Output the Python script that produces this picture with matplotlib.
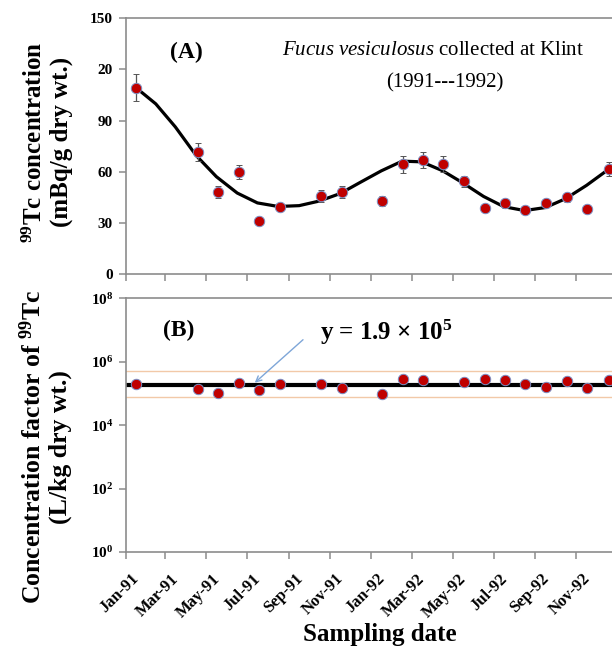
import matplotlib
matplotlib.use("Agg")
import matplotlib.pyplot as plt
import matplotlib.dates as mdates
import pandas as pd

plt.rcParams['font.family'] = ['Liberation Serif', 'DejaVu Serif']
plt.rcParams['mathtext.fontset'] = 'custom'
plt.rcParams['mathtext.rm'] = 'Liberation Serif'
plt.rcParams['mathtext.bf'] = 'Liberation Serif:bold'
plt.rcParams['mathtext.it'] = 'Liberation Serif:italic'

# 99Tc in Fucus vesiculosus, Klint 1991-1992
dates_a = pd.to_datetime([
    '1991-01-16', '1991-04-18', '1991-05-18', '1991-06-18', '1991-07-18',
    '1991-08-18', '1991-10-18', '1991-11-18', '1992-01-17', '1992-02-17',
    '1992-03-18', '1992-04-17', '1992-05-18', '1992-06-18', '1992-07-18',
    '1992-08-17', '1992-09-17', '1992-10-18', '1992-11-17', '1992-12-19'])
conc = [109.3, 71.6, 47.9, 59.8, 30.9, 39.1, 45.6, 48.1, 43.0, 64.5,
        66.7, 64.5, 54.4, 38.5, 41.5, 37.5, 41.9, 45.0, 37.9, 61.6]
conc_err = [8.1, 5.5, 3.5, 4.2, 1.0, 2.0, 3.5, 3.7, 3.0, 5.0,
            4.7, 4.7, 3.3, 2.0, 2.5, 2.0, 2.0, 2.7, 1.0, 4.0]

# smoothed trend through the concentration series
trend_dates = pd.to_datetime([
    '1991-01-16', '1991-02-15', '1991-03-16', '1991-04-16', '1991-05-16',
    '1991-06-16', '1991-07-16', '1991-08-16', '1991-09-16', '1991-10-16',
    '1991-11-16', '1991-12-16', '1992-01-16', '1992-02-16', '1992-03-16',
    '1992-04-16', '1992-05-16', '1992-06-16', '1992-07-16', '1992-08-16',
    '1992-09-16', '1992-10-16', '1992-11-16', '1992-12-19'])
trend = [109.5, 99.8, 86.3, 69.5, 57.1, 47.5, 41.7, 39.6, 40.1, 42.8,
         47.2, 53.8, 60.5, 66.2, 65.8, 60.6, 53.5, 45.5, 39.5, 37.2,
         39.0, 44.2, 52.0, 61.5]

# concentration factors (no value for Apr-92)
dates_b = pd.to_datetime([
    '1991-01-16', '1991-04-18', '1991-05-18', '1991-06-18', '1991-07-18',
    '1991-08-18', '1991-10-18', '1991-11-18', '1992-01-17', '1992-02-17',
    '1992-03-18', '1992-05-18', '1992-06-18', '1992-07-18', '1992-08-17',
    '1992-09-17', '1992-10-18', '1992-11-17', '1992-12-19'])
cf = [2.0e5, 1.35e5, 1.05e5, 2.1e5, 1.3e5, 1.95e5, 2.0e5, 1.5e5, 9.3e4, 2.8e5,
      2.7e5, 2.3e5, 2.9e5, 2.7e5, 2.0e5, 1.6e5, 2.4e5, 1.5e5, 2.7e5]
cf_mean = 1.9e5
cf_band = [5.2e5, 7.5e4]

tick_dates = pd.date_range('1991-01-01', '1992-11-01', freq='2MS')
conc_ticks = [0, 30, 60, 90, 120, 150]
conc_ticklabels = ['0', '30', '60', '90', '20', '150']

red = '#c00000'
edge = '#7b8fc4'
grey = '#8c8c8c'

W, H = 612, 647
fig = plt.figure(figsize=(W / 100, H / 100), dpi=100)
left = 125.5 / W
width = 492 / W
ax1 = fig.add_axes([left, (H - 274) / H, width, 255.7 / H])
ax2 = fig.add_axes([left, (H - 552) / H, width, 253.7 / H])

xlim = (pd.Timestamp('1991-01-01'), pd.Timestamp('1993-01-01'))

for ax in (ax1, ax2):
    ax.set_xlim(xlim)
    ax.set_xticks(tick_dates)
    ax.spines['right'].set_visible(False)
    for s in ('left', 'bottom', 'top'):
        ax.spines[s].set_color(grey)
        ax.spines[s].set_linewidth(1.2)
    ax.tick_params(direction='out', length=5, width=1.1, color=grey, pad=4)
    ax.tick_params(axis='y', labelsize=11)

# (A) concentration with trend curve
ax1.plot(trend_dates, trend, color='black', lw=2.3, solid_joinstyle='round',
         solid_capstyle='round', zorder=3)
ax1.errorbar(dates_a, conc, yerr=conc_err, fmt='o', ms=7.5, mfc=red, mec=edge, mew=0.7,
             ecolor='#555555', elinewidth=0.9, capsize=2.5, capthick=0.9, zorder=4)
ax1.set_ylim(0, 150)
ax1.set_yticks(conc_ticks)
ax1.set_yticklabels(conc_ticklabels, fontweight='bold')
ax1.tick_params(axis='x', labelbottom=False)

ax1.text(0.123, 0.868, '(A)', transform=ax1.transAxes, fontsize=17, fontweight='bold',
         ha='center', va='center')
ax1.text(0.625, 0.876, r'$\it{Fucus\ vesiculosus}$ collected at Klint', transform=ax1.transAxes,
         fontsize=15, ha='center', va='center')
ax1.text(0.649, 0.747, '(1991---1992)', transform=ax1.transAxes, fontsize=15,
         ha='center', va='center')

# (B) concentration factor, log scale
ax2.set_yscale('log')
ax2.set_ylim(1, 1e8)
ax2.set_yticks([1, 1e2, 1e4, 1e6, 1e8])
ax2.set_yticklabels([r'$\mathbf{10^{%d}}$' % p for p in (0, 2, 4, 6, 8)])
ax2.minorticks_off()
for v in cf_band:
    ax2.axhline(v, color='#f2c9a8', lw=1.0, zorder=1)
ax2.axhline(cf_mean, color='black', lw=3, zorder=2)
ax2.plot(dates_b, cf, 'o', ms=7.5, mfc=red, mec=edge, mew=0.7, zorder=4)

ax2.text(0.108, 0.875, '(B)', transform=ax2.transAxes, fontsize=17, fontweight='bold',
         ha='center', va='center')
ax2.text(0.53, 0.867, 'y = 1.9 × 10$^{\\mathbf{5}}$', transform=ax2.transAxes, fontsize=18,
         fontweight='bold', ha='center', va='center')
ax2.annotate('', xy=(pd.Timestamp('1991-07-09'), cf_mean), xytext=(0.365, 0.844),
             textcoords='axes fraction',
             arrowprops=dict(arrowstyle='->', color='#7ea6d8', lw=1.0))

ax2.xaxis.set_major_formatter(mdates.DateFormatter('%b-%y'))
off = matplotlib.transforms.ScaledTranslation(11 / 100, -12 / 100, fig.dpi_scale_trans)
for lab in ax2.get_xticklabels():
    lab.set_rotation(45)
    lab.set_ha('right')
    lab.set_va('center')
    lab.set_rotation_mode('anchor')
    lab.set_fontsize(12)
    lab.set_fontweight('bold')
    lab.set_transform(lab.get_transform() + off)

fig.text(48 / W, (H - 142) / H,
         r'$^{\mathbf{99}}$Tc concentration' + '\n(mBq/g dry wt.)',
         rotation=90, ha='center', va='center', fontsize=18, fontweight='bold',
         multialignment='center', linespacing=1.15)
fig.text(46 / W, (H - 447) / H,
         r'Concentration factor of $^{\mathbf{99}}$Tc' + '\n(L/kg dry wt.)',
         rotation=90, ha='center', va='center', fontsize=18.5, fontweight='bold',
         multialignment='center', linespacing=1.15)
fig.text(380 / W, (H - 635) / H, 'Sampling date', ha='center', va='center',
         fontsize=18, fontweight='bold')

fig.savefig('out.png', dpi=100)
